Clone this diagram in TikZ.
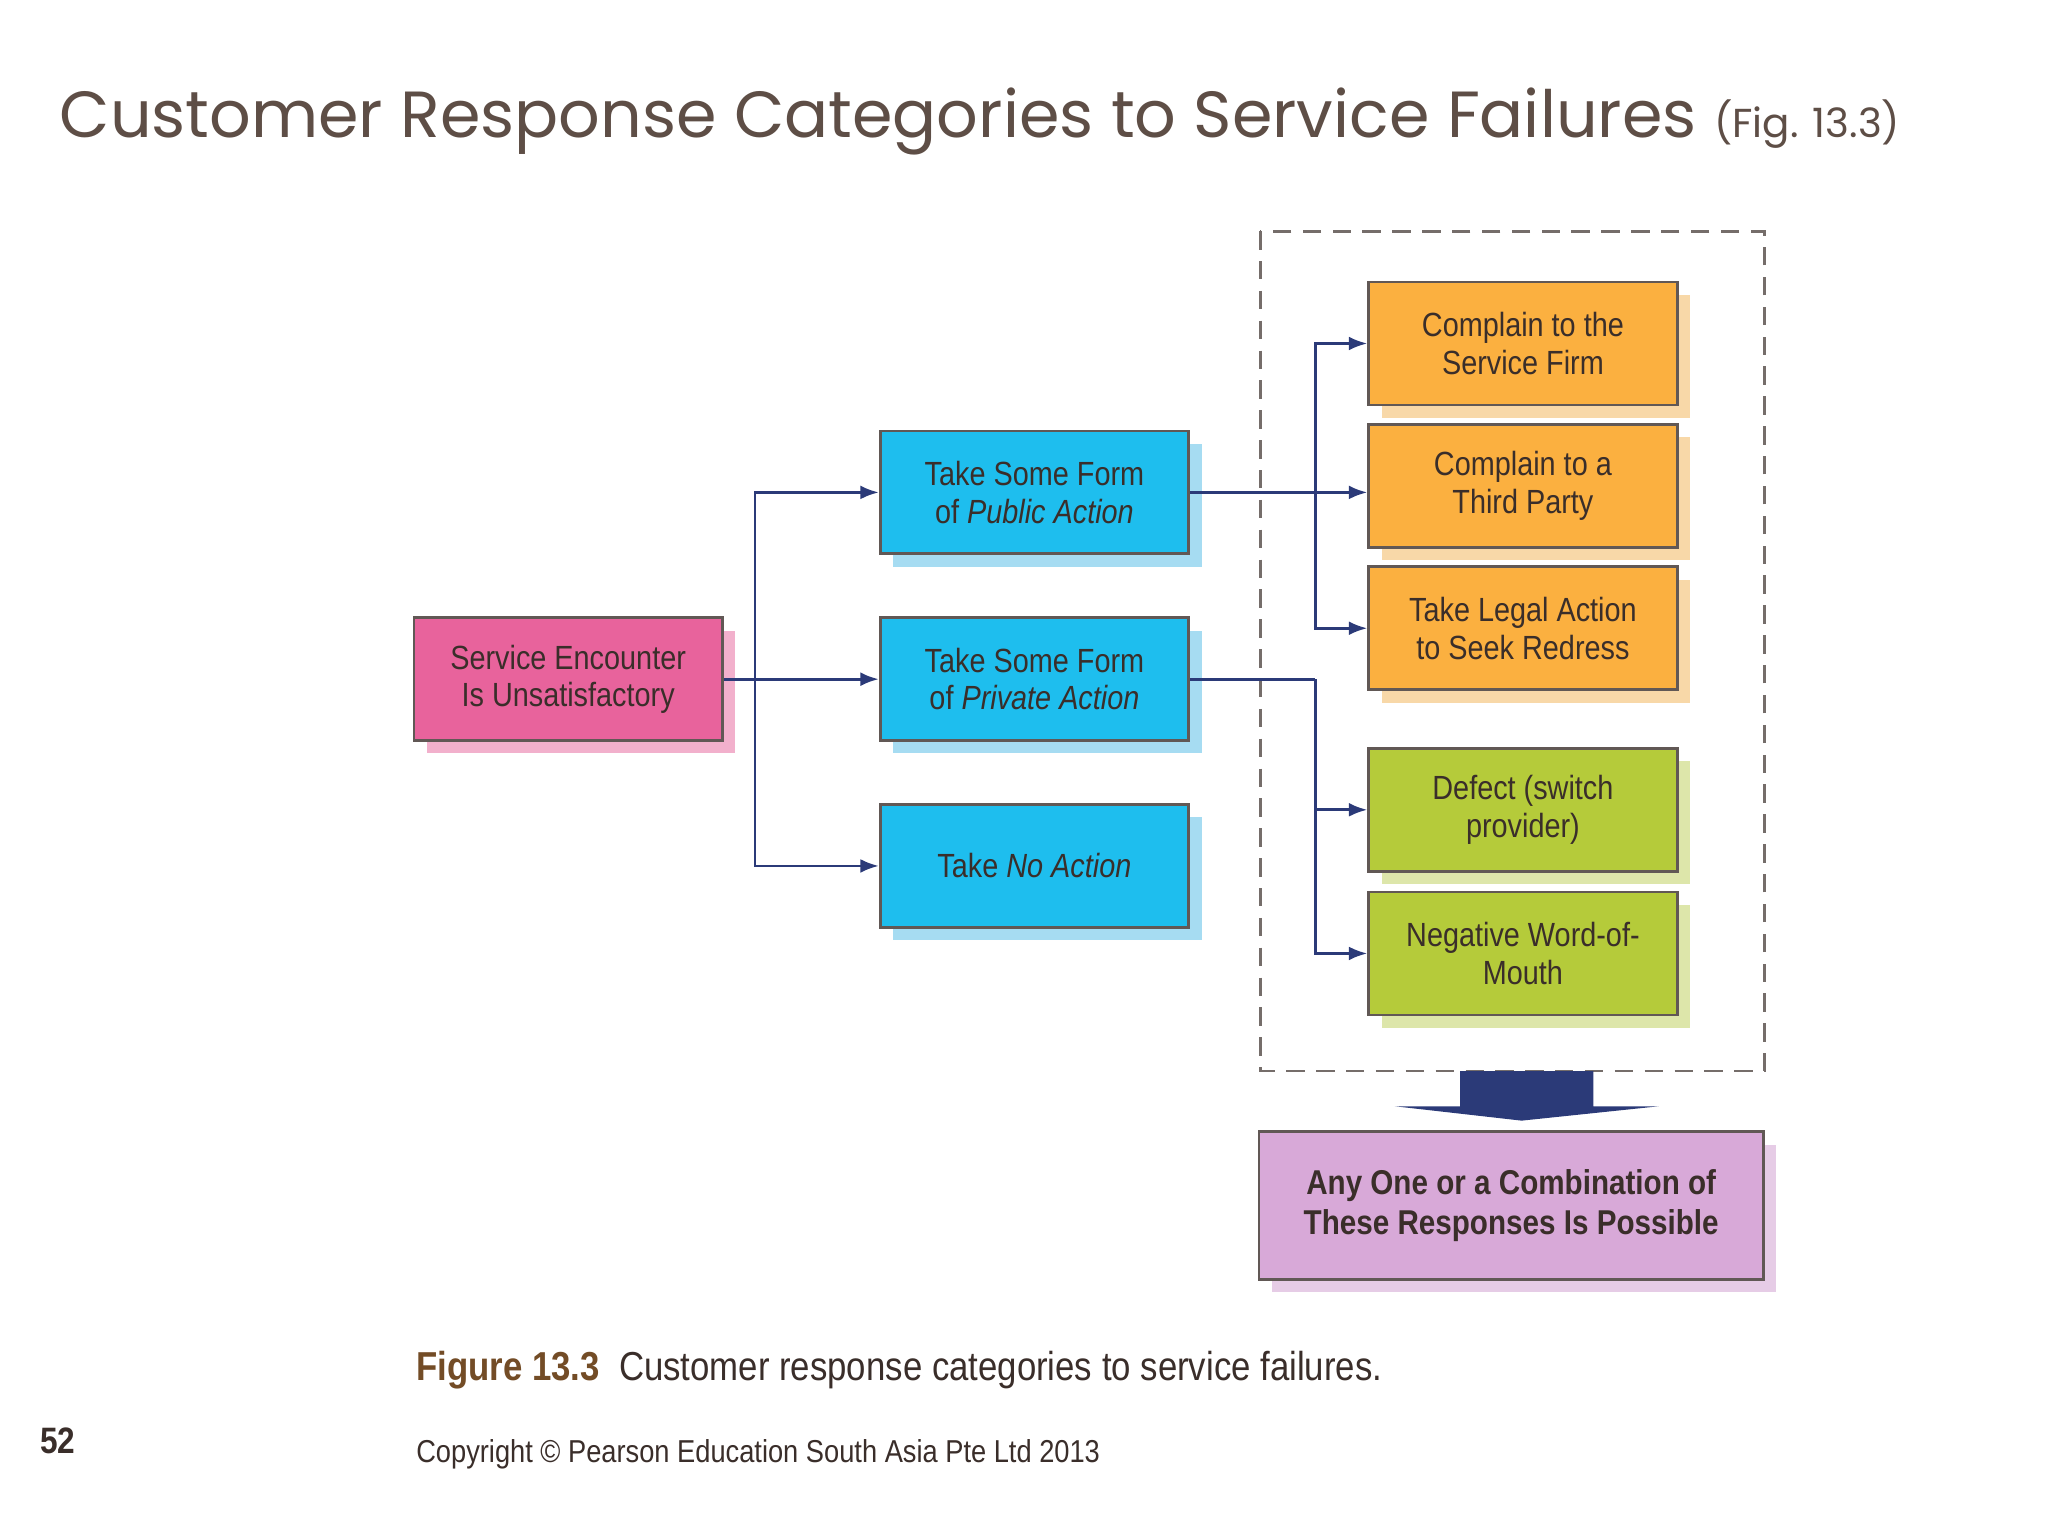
\documentclass[tikz,border=0pt]{standalone}
\usepackage{fontspec}
\setmainfont{Liberation Sans}[FakeStretch=0.86]
\newfontfamily\titlefont{Poppins}
\usetikzlibrary{shadows,arrows.meta}
\definecolor{pinkf}{HTML}{E8639C}\definecolor{pinks}{HTML}{F2B0CC}
\definecolor{bluef}{HTML}{1EBEEE}\definecolor{blues}{HTML}{A6DCF2}
\definecolor{orgf}{HTML}{FBB040}\definecolor{orgs}{HTML}{F8D8A8}
\definecolor{grnf}{HTML}{B5CB3A}\definecolor{grns}{HTML}{DDE6AA}
\definecolor{purf}{HTML}{D8A9D8}\definecolor{purs}{HTML}{E6CCE6}
\definecolor{txt}{HTML}{3A2E2A}\definecolor{line}{HTML}{2B3A78}
\definecolor{ttl}{HTML}{5E4E46}
\begin{document}
\begin{tikzpicture}[x=0.01cm,y=-0.01cm,
  box/.style={draw=txt!80,line width=0.6pt,minimum width=2.36cm,minimum height=0.94cm,align=center,text=txt,font=\fontsize{7.3}{8.2}\selectfont,inner sep=0pt},
  sh/.style={drop shadow={shadow xshift=2.8pt,shadow yshift=-2.8pt,fill=#1,opacity=1}},
  con/.style={draw=line,line width=0.6pt,-{Latex[length=4pt,width=3pt]}},
  ln/.style={draw=line,line width=0.6pt}]
\useasboundingbox (0,0) rectangle (1568,1176);
\fill[white] (0,0) rectangle (1568,1176);
\node[anchor=base west,text=ttl,inner sep=0] (title) at (45,105) {\titlefont\fontsize{14.2}{17}\selectfont Customer Response Categories to Service Failures \fontsize{8.8}{10}\selectfont(Fig. 13.3)};
\draw[dashed,line width=0.6pt,draw=txt!70,dash pattern=on 4pt off 2.5pt] (965,177) rectangle (1351,820);
\node[box,fill=pinkf,sh=pinks] (se) at (435,520) {Service Encounter\\Is Unsatisfactory};
\node[box,fill=bluef,sh=blues] (pub) at (792,377) {Take Some Form\\of \textit{Public Action}};
\node[box,fill=bluef,sh=blues] (pri) at (792,520) {Take Some Form\\of \textit{Private Action}};
\node[box,fill=bluef,sh=blues] (no) at (792,663) {Take \textit{No Action}};
\node[box,fill=orgf,sh=orgs] (c1) at (1166,263) {Complain to the\\Service Firm};
\node[box,fill=orgf,sh=orgs] (c2) at (1166,372) {Complain to a\\Third Party};
\node[box,fill=orgf,sh=orgs] (c3) at (1166,481) {Take Legal Action\\to Seek Redress};
\node[box,fill=grnf,sh=grns] (g1) at (1166,620) {Defect (switch\\provider)};
\node[box,fill=grnf,sh=grns] (g2) at (1166,730) {Negative Word-of-\\Mouth};
\node[box,fill=purf,sh=purs,minimum width=3.86cm,minimum height=1.13cm,font=\bfseries\fontsize{7.5}{8.6}\selectfont] (any) at (1157,923) {Any One or a Combination of\\These Responses Is Possible};
% connectors
\coordinate (j1) at (578,520);
\draw[ln] (se.east) -- (j1);
\draw[con] (j1) |- (pub.west);
\draw[con] (j1) -- (pri.west);
\draw[con] (j1) |- (no.west);
\coordinate (j2) at (1007,377);
\draw[con] (pub.east) -- (c2.west |- pub.east);
\draw[con] (j2) |- (c1.west);
\draw[con] (j2) |- (c3.west);
\coordinate (j3) at (1007,520);
\draw[ln] (pri.east) -- (j3);
\draw[con] (j3) |- (g1.west);
\draw[con] (j3) |- (g2.west);
% big arrow
\fill[line] (1118,820) -- (1220,820) -- (1220,847) -- (1270,847) -- (1165,858) -- (1068,847) -- (1118,847) -- cycle;
% caption
\node[anchor=base west,inner sep=0,text=txt] (cap) at (318,1057) {\fontsize{8.8}{10}\selectfont\textbf{\color{brown!60!black}Figure 13.3}\ \ Customer response categories to service failures.};
\node[anchor=base west,inner sep=0,text=txt] (copy) at (318,1120) {\fontsize{6.9}{8}\selectfont Copyright © Pearson Education South Asia Pte Ltd 2013};
\node[anchor=base west,inner sep=0,text=txt] (num) at (30,1113) {\fontsize{8}{9}\selectfont\bfseries 52};
\end{tikzpicture}
\end{document}
